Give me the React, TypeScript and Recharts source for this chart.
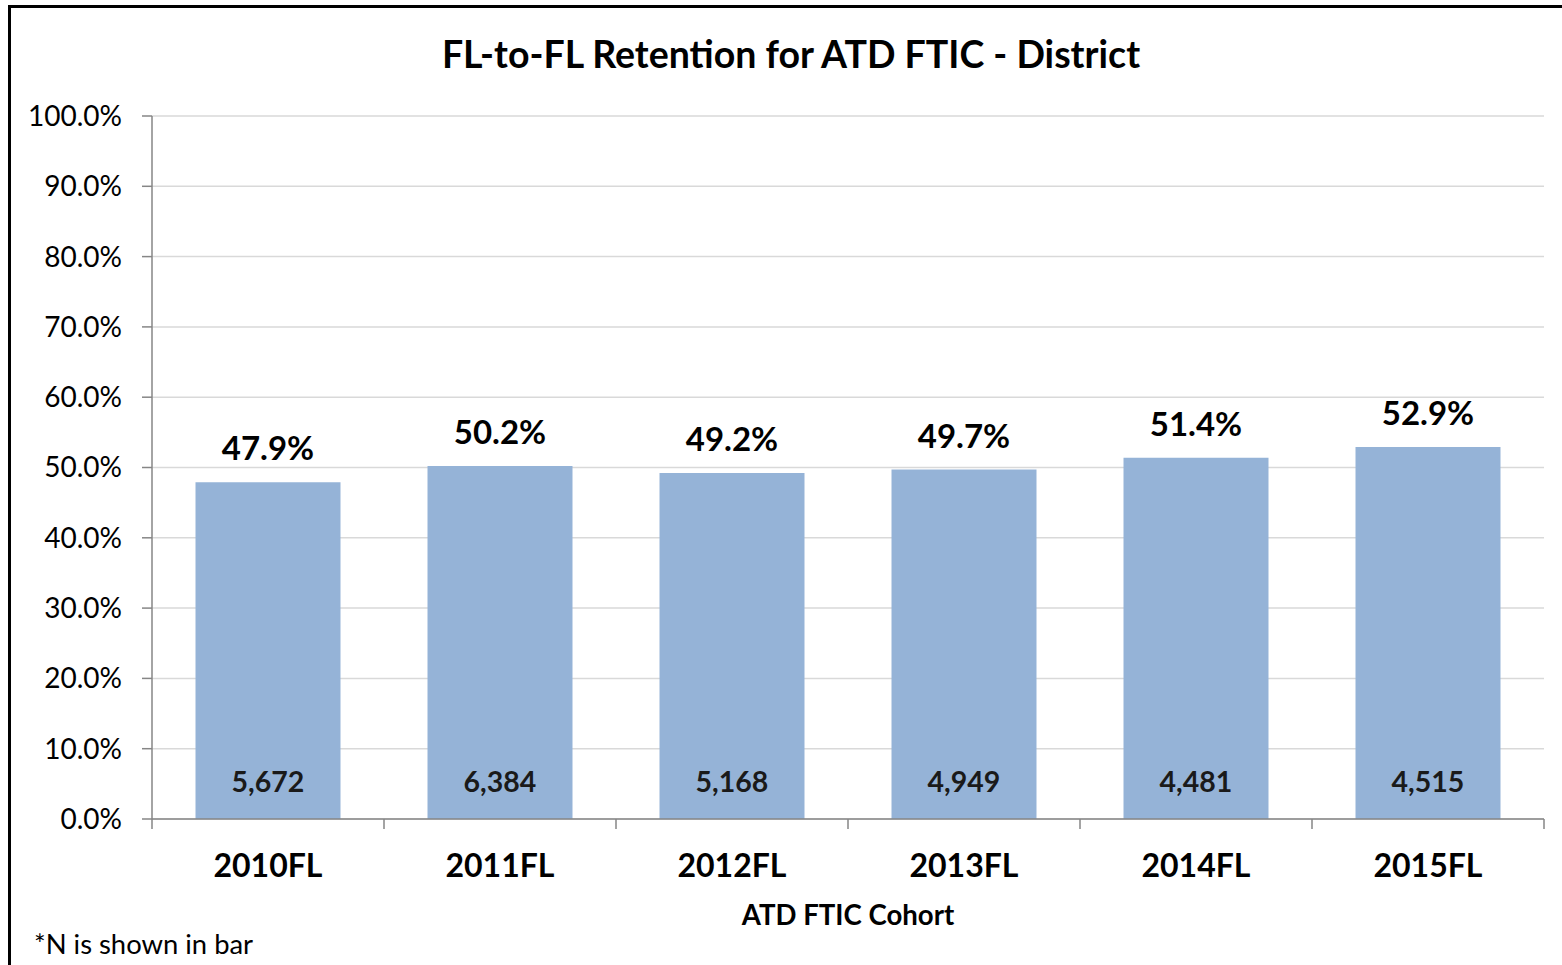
import { BarChart, Bar, XAxis, YAxis, CartesianGrid, LabelList } from "recharts";

const cohorts = ["2010FL", "2011FL", "2012FL", "2013FL", "2014FL", "2015FL"];
const retention = [0.479, 0.502, 0.492, 0.497, 0.514, 0.529];
const cohortN = [5672, 6384, 5168, 4949, 4481, 4515];
const yTicks = [0, 0.1, 0.2, 0.3, 0.4, 0.5, 0.6, 0.7, 0.8, 0.9, 1];

const data = cohorts.map((c, i) => ({ cohort: c, rate: retention[i], n: cohortN[i] }));

const FONT = "Lato, 'Open Sans', sans-serif";
const AXIS = "#868686";

const W = 1562;
const H = 965;
const M = { top: 116, right: 18, bottom: 0, left: 0 };
const X_AXIS_H = 146;

function CohortTick(props: any) {
  const { x, y, payload } = props;
  const half = payload.offset || (W - 152 - M.right) / cohorts.length / 2;
  return (
    <g>
      <line x1={x - half} x2={x - half} y1={y} y2={y + 10} stroke={AXIS} strokeWidth={1.5} />
      {payload.index === cohorts.length - 1 && (
        <line x1={x + half} x2={x + half} y1={y} y2={y + 10} stroke={AXIS} strokeWidth={1.5} />
      )}
      <text x={x} y={y + 58} textAnchor="middle" fontFamily={FONT} fontWeight={700} fontSize={32} fill="#000">
        {payload.value}
      </text>
    </g>
  );
}

function RateLabel(props: any) {
  const { x, y, width, value } = props;
  return (
    <text x={x + width / 2} y={y - 22} textAnchor="middle" fontFamily={FONT} fontWeight={700} fontSize={33} fill="#000">
      {(value * 100).toFixed(1) + "%"}
    </text>
  );
}

function NLabel(props: any) {
  const { x, y, width, height, value } = props;
  return (
    <text x={x + width / 2} y={y + height - 27} textAnchor="middle" fontFamily={FONT} fontWeight={700} fontSize={28.5} fill="#1a1a1a">
      {value.toLocaleString("en-US")}
    </text>
  );
}

export default function App() {
  return (
    <div style={{ position: "absolute", left: 0, top: 0, width: W, height: H, background: "#fff", overflow: "hidden", fontFamily: FONT }}>
      <div
        style={{
          position: "absolute",
          left: 8,
          top: 5,
          width: W,
          height: H,
          borderLeft: "3px solid #000",
          borderTop: "3px solid #000",
        }}
      />
      <div
        style={{
          position: "absolute",
          left: 0,
          width: 1582,
          top: 31,
          textAlign: "center",
          fontSize: 37.5,
          fontWeight: 700,
          color: "#000",
        }}
      >
        FL-to-FL Retention for ATD FTIC - District
      </div>
      <div style={{ position: "absolute", left: 152, width: 1392, top: 898, textAlign: "center", fontSize: 27.6, fontWeight: 700, color: "#000" }}>
        ATD FTIC Cohort
      </div>
      <div style={{ position: "absolute", left: 34, top: 927, fontSize: 27.4, color: "#000" }}>*N is shown in bar</div>
      <div style={{ position: "absolute", left: 0, top: 0 }}>
        <BarChart width={W} height={H} data={data} margin={M} barCategoryGap="18.75%">
          <CartesianGrid vertical={false} stroke="#d9d9d9" strokeWidth={1.5} />
          <XAxis
            dataKey="cohort"
            axisLine={{ stroke: AXIS, strokeWidth: 1.5 }}
            tickLine={false}
            tickSize={0}
            tickMargin={0}
            tick={<CohortTick />}
            interval={0}
            height={X_AXIS_H}
          />
          <YAxis
            domain={[0, 1]}
            ticks={yTicks}
            width={152}
            tickSize={10}
            tickMargin={20}
            tickLine={{ stroke: AXIS, strokeWidth: 1.5 }}
            axisLine={{ stroke: AXIS, strokeWidth: 1.5 }}
            tickFormatter={(v: number) => (v * 100).toFixed(1) + "%"}
            tick={{ fill: "#000", fontSize: 28, fontFamily: FONT }}
          />
          <Bar dataKey="rate" fill="#95b3d7" isAnimationActive={false}>
            <LabelList dataKey="rate" content={<RateLabel />} />
            <LabelList dataKey="n" content={<NLabel />} />
          </Bar>
        </BarChart>
      </div>
    </div>
  );
}
